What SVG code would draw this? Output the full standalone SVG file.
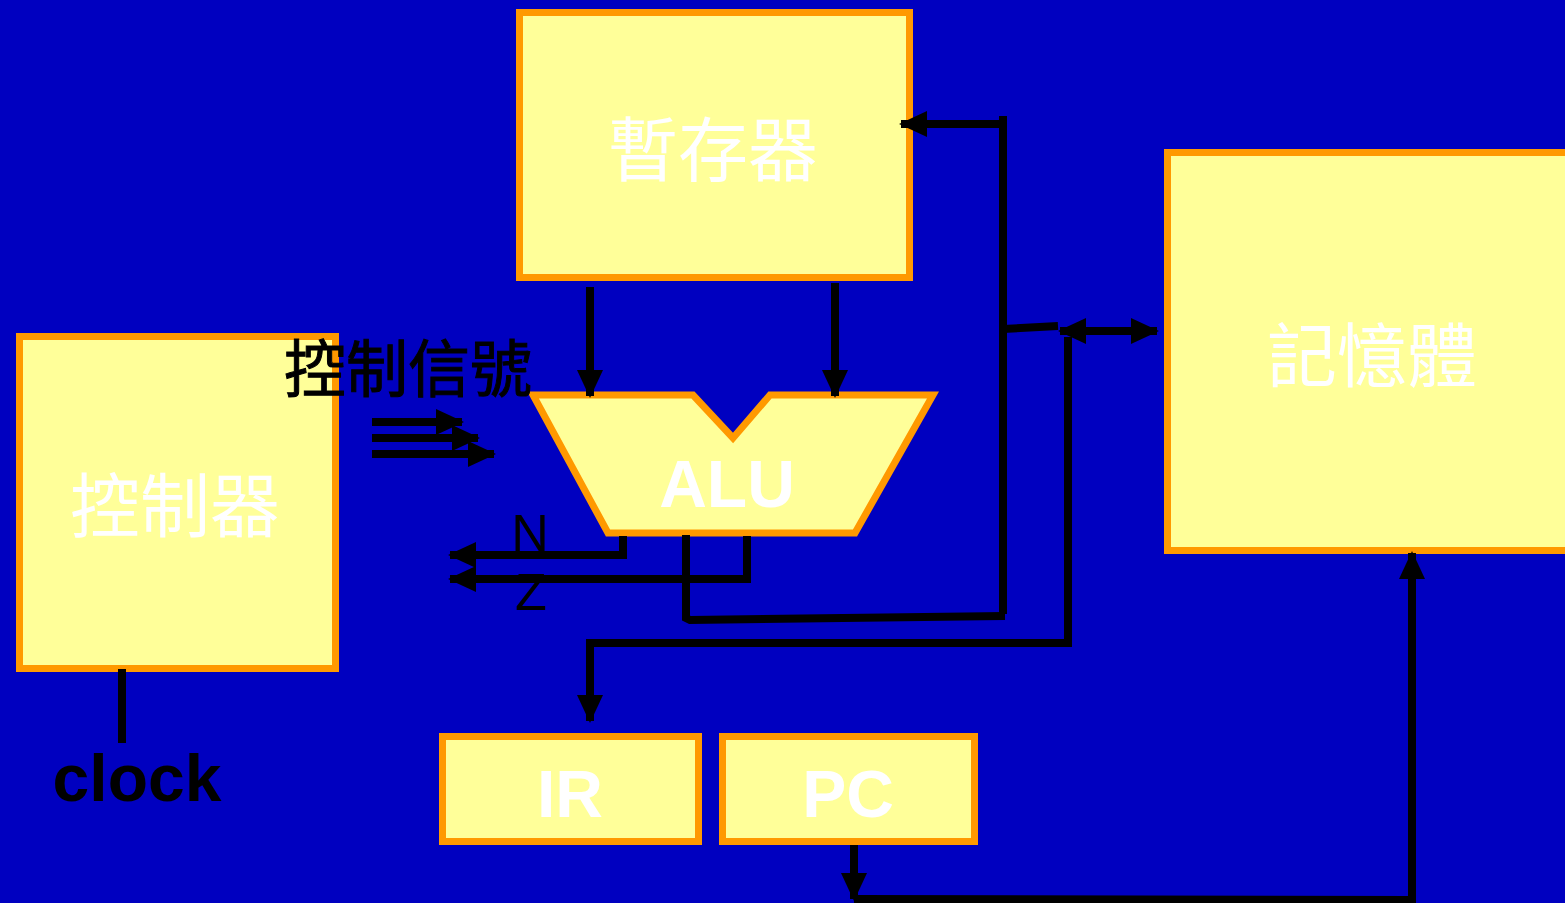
<svg xmlns="http://www.w3.org/2000/svg" width="1565" height="903" viewBox="0 0 1565 903">
<style>
.box{fill:#FFFF99;stroke:#FF9900;stroke-width:7}
.w{fill:#FFFFFF;font-family:"Noto Sans CJK TC",sans-serif;font-size:70px;text-anchor:middle}
.wb{fill:#FFFFFF;font-family:"Liberation Sans",Arial,sans-serif;font-weight:bold;text-anchor:middle}
.ln{stroke:#000;stroke-width:8;fill:none}
.k{fill:#000;font-family:"Liberation Sans",Arial,sans-serif}
</style>
<defs>
<marker id="ah" markerUnits="userSpaceOnUse" markerWidth="28" markerHeight="28" viewBox="0 0 28 28" refX="26" refY="14" orient="auto-start-reverse">
<path d="M0,1 L28,14 L0,27 Z" fill="#000"/>
</marker>
</defs>
<rect width="1565" height="903" fill="#0000C0"/>
<g id="reg"><rect class="box" x="519.5" y="12.5" width="390" height="265"/><text class="w" x="713" y="176">暫存器</text></g>
<g id="mem"><rect class="box" x="1167.5" y="152.5" width="405" height="398"/><text class="w" x="1372" y="382">記憶體</text></g>
<g id="ctrl"><rect class="box" x="19.5" y="336.5" width="316" height="332"/><text class="w" x="175" y="532">控制器</text></g>
<g id="ir"><rect class="box" x="442.5" y="736.5" width="256" height="105"/><text class="wb" x="570" y="817" font-size="66">IR</text></g>
<g id="pc"><rect class="box" x="722.5" y="736.5" width="252" height="105"/><text class="wb" x="848" y="817" font-size="66">PC</text></g>
<g id="alu"><polygon class="box" points="533,395 693,395 733,438 770,395 933,395 855,533 608,533"/><text class="wb" x="727" y="507" font-size="66">ALU</text></g>
<g id="labels">
<text x="408" y="392" font-family="'Noto Sans CJK TC',sans-serif" font-size="62" text-anchor="middle" fill="#000" stroke="#000" stroke-width="1">控制信號</text>
<text class="k" x="530" y="551" font-size="52" text-anchor="middle">N</text>
<text class="k" x="531" y="610" font-size="52" text-anchor="middle">Z</text>
<text class="k" x="137" y="801" font-size="66" font-weight="bold" text-anchor="middle">clock</text>
</g>
<g id="connectors">
<line class="ln" x1="590" y1="287" x2="590" y2="396" marker-end="url(#ah)"/>
<line class="ln" x1="835" y1="283" x2="835" y2="396" marker-end="url(#ah)"/>
<line class="ln" x1="372" y1="422" x2="462" y2="422" marker-end="url(#ah)"/>
<line class="ln" x1="372" y1="438" x2="478" y2="438" marker-end="url(#ah)"/>
<line class="ln" x1="372" y1="454" x2="494" y2="454" marker-end="url(#ah)"/>
<polyline class="ln" points="623,536 623,555 450,555" marker-end="url(#ah)"/>
<polyline class="ln" points="747,536 747,579 450,579" marker-end="url(#ah)"/>
<polyline class="ln" points="686,535 686,618 690,620 1005,616"/>
<line class="ln" x1="1003" y1="116" x2="1003" y2="614"/>
<line class="ln" x1="1006" y1="124" x2="901" y2="124" marker-end="url(#ah)"/>
<line class="ln" x1="1003" y1="329" x2="1058" y2="326"/>
<line class="ln" x1="1060" y1="331" x2="1157" y2="331" marker-start="url(#ah)" marker-end="url(#ah)"/>
<polyline class="ln" points="1068,337 1068,643 590,643 590,721" marker-end="url(#ah)"/>
<line class="ln" x1="122" y1="669" x2="122" y2="743"/>
<polyline class="ln" points="854,845 854,899" marker-end="url(#ah)"/>
<polyline class="ln" points="854,899 1412,900 1412,553" marker-end="url(#ah)"/>
</g>
</svg>
